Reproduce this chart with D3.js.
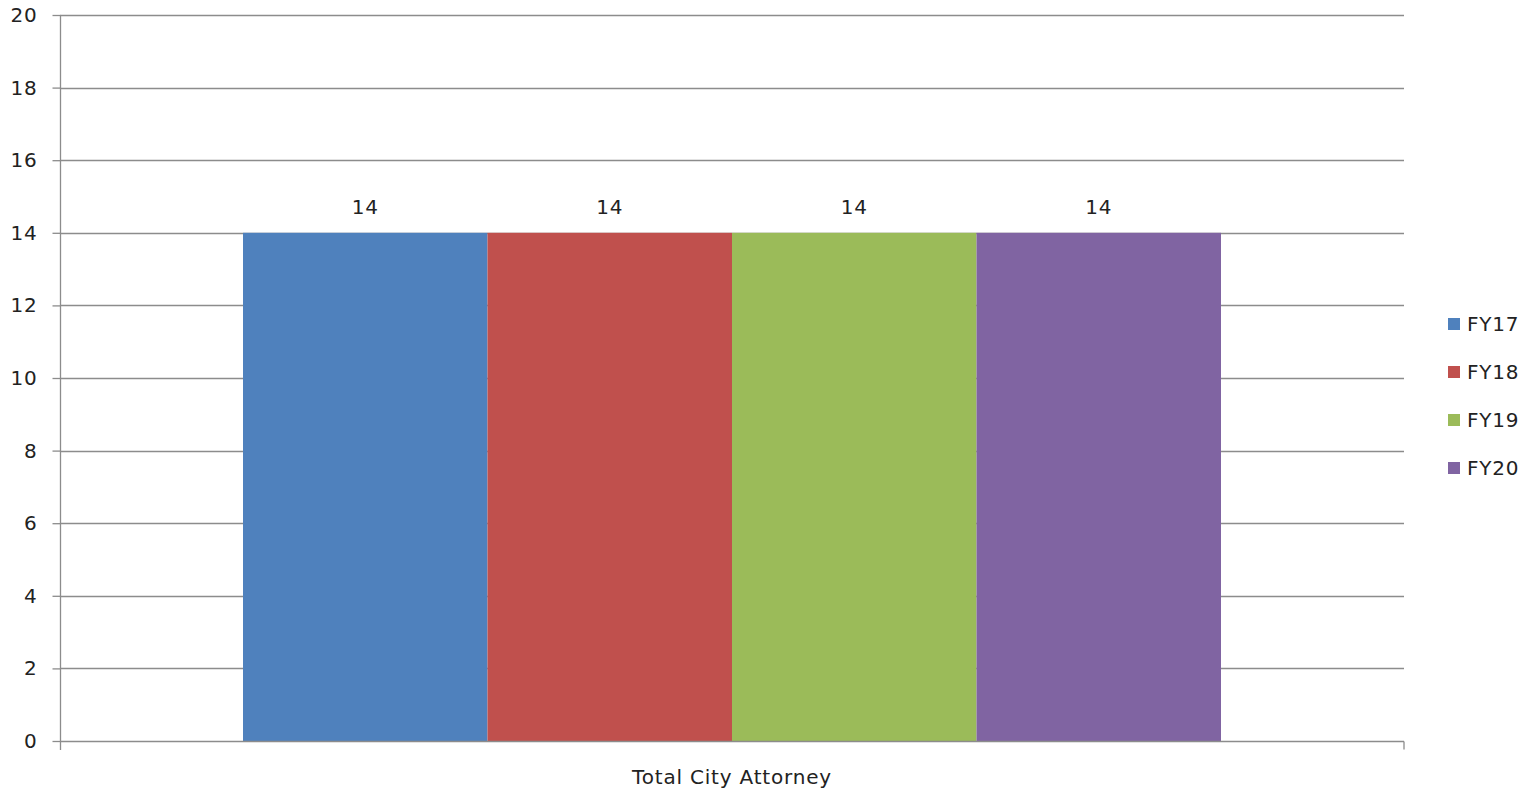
<!DOCTYPE html>
<html>
<head>
<meta charset="utf-8">
<script src="https://cdn.jsdelivr.net/npm/d3@7"></script>
<style>
  html, body { margin: 0; padding: 0; background: #fff; }
  svg { display: block; }
  text { font-family: "DejaVu Sans", "Liberation Sans", sans-serif; fill: #222; letter-spacing: 0.8px; }
</style>
</head>
<body>
<svg id="chart" width="1528" height="792"></svg>
<script>
// Budgeted positions for the City Attorney's office, by fiscal year
const categories = ["Total City Attorney"];
const seriesNames = ["FY17", "FY18", "FY19", "FY20"];
const seriesValues = [14, 14, 14, 14];
const seriesColors = ["#4F81BD", "#C0504D", "#9BBB59", "#8064A2"];
const yTicks = [0, 2, 4, 6, 8, 10, 12, 14, 16, 18, 20];

const svg = d3.select("#chart");
const plotLeft = 60, plotRight = 1404, plotTop = 15, plotBottom = 741;
const fontSize = 20;

const y = d3.scaleLinear().domain([0, 20]).range([plotBottom, plotTop]);
const x0 = d3.scaleBand().domain(categories).range([plotLeft, plotRight]).paddingInner(0).paddingOuter(0);
// 150% gap width split evenly on both sides of the cluster
const clusterFrac = 978 / 1344;
const x1 = d3.scaleBand().domain(seriesNames)
  .range([(1 - clusterFrac) / 2 * x0.bandwidth(), (1 + clusterFrac) / 2 * x0.bandwidth()])
  .padding(0);

const gridColor = "#8c8c8c";

// horizontal gridlines
svg.append("g").selectAll("line").data(yTicks.filter(d => d > 0)).join("line")
  .attr("x1", plotLeft).attr("x2", plotRight)
  .attr("y1", d => Math.round(y(d)) + 0.5).attr("y2", d => Math.round(y(d)) + 0.5)
  .attr("stroke", gridColor).attr("stroke-width", 1.3);

// y axis with ticks and labels
const yAxis = d3.axisLeft(y).tickValues(yTicks).tickSize(8).tickPadding(15).tickFormat(d3.format("d"));
const gy = svg.append("g").attr("transform", `translate(${plotLeft + 0.5},0)`).call(yAxis);
gy.select(".domain").remove();
gy.selectAll(".tick line").attr("stroke", gridColor).attr("stroke-width", 1.3);
gy.selectAll(".tick text").attr("font-size", fontSize).attr("fill", "#222")
  .style("font-family", "\"DejaVu Sans\", sans-serif");
gy.append("line").attr("x1", 0).attr("x2", 0).attr("y1", plotTop).attr("y2", plotBottom + 9)
  .attr("stroke", gridColor).attr("stroke-width", 1.3);

// bars
const g = svg.append("g");
categories.forEach(cat => {
  const data = seriesNames.map((s, i) => ({ s, v: seriesValues[i], c: seriesColors[i] }));
  g.selectAll(null).data(data).join("rect")
    .attr("x", d => x0(cat) + x1(d.s))
    .attr("y", d => y(d.v))
    .attr("width", x1.bandwidth())
    .attr("height", d => y(0) - y(d.v))
    .attr("fill", d => d.c);
  g.selectAll(null).data(data).join("text")
    .attr("x", d => x0(cat) + x1(d.s) + x1.bandwidth() / 2)
    .attr("y", d => y(d.v) - 19)
    .attr("text-anchor", "middle")
    .attr("font-size", fontSize)
    .text(d => d.v);
});

// x axis baseline and end tick
const gx = svg.append("g").attr("transform", `translate(0,${Math.round(plotBottom) + 0.5})`);
gx.append("line").attr("x1", plotLeft).attr("x2", plotRight).attr("stroke", gridColor).attr("stroke-width", 1.3);
gx.append("line").attr("x1", plotRight).attr("x2", plotRight).attr("y1", 0).attr("y2", 8)
  .attr("stroke", gridColor).attr("stroke-width", 1.3);
gx.selectAll("text.cat").data(categories).join("text")
  .attr("class", "cat")
  .attr("x", d => x0(d) + x0.bandwidth() / 2)
  .attr("y", 42)
  .attr("text-anchor", "middle")
  .attr("font-size", fontSize)
  .text(d => d);

// legend
const legend = svg.append("g").attr("transform", "translate(1448,324)");
const items = legend.selectAll("g").data(seriesNames).join("g")
  .attr("transform", (d, i) => `translate(0,${i * 48})`);
items.append("rect").attr("x", 0).attr("y", -6).attr("width", 12).attr("height", 12)
  .attr("fill", (d, i) => seriesColors[i]);
items.append("text").attr("x", 19).attr("y", 0).attr("dy", "0.35em")
  .attr("font-size", fontSize).text(d => d);
</script>
</body>
</html>
